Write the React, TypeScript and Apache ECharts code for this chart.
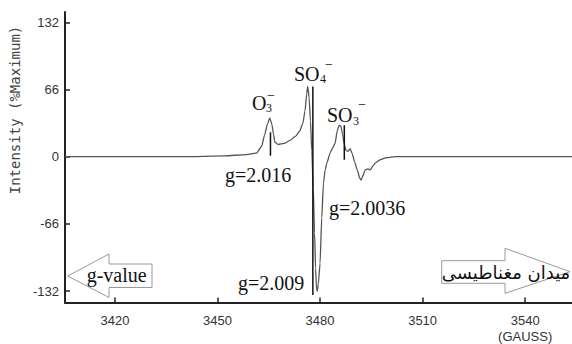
import React, { useEffect, useRef } from "react";
import * as echarts from "echarts";

// Magnetic field (G) and intensity (% maximum)
const fieldG = [
  3405.4, 3440, 3452, 3458.4, 3461.4, 3462.9, 3463.8, 3464.6, 3465.3, 3465.9,
  3466.4, 3466.8, 3467.8, 3469.5, 3471.2, 3472.8, 3474.0, 3475.0, 3475.6, 3476.1,
  3476.4, 3476.8, 3477.2, 3477.6, 3478.0, 3478.4, 3478.7, 3479.0, 3479.2, 3479.5,
  3480.0, 3480.5, 3481.0, 3481.5, 3482.0, 3483.0, 3483.6, 3484.4, 3485.0, 3485.6,
  3486.1, 3486.6, 3487.1, 3487.6, 3488.2, 3488.8, 3489.4, 3490.1, 3490.9, 3491.6,
  3492.0, 3492.5, 3493.2, 3494.0, 3494.7, 3495.5, 3496.2, 3497.6, 3499.5, 3502,
  3553.7,
];
const intensity = [
  0, 0, 0.8, 2, 3.5, 10, 21.5, 32, 38, 32,
  22, 14, 12, 13, 16, 20, 25, 33, 45, 62,
  69, 58, 35, 5, -30, -75, -110, -131, -132, -125,
  -105, -60, -26, -13, -6, 4, 8, 13, 25, 31,
  30, 22, 12, 6, 5.5, 8, 3, -5, -13, -21,
  -23, -19, -13, -12, -13, -9, -6, -3, -1, 0,
  0,
];

const xTicks = [3420, 3450, 3480, 3510, 3540];
const yTicks = [-132, -66, 0, 66, 132];

// Vertical marker lines (field, top, bottom)
const markerG = [3465.5, 3477.9, 3487.1];
const markerTop = [24, 69, 31];
const markerBottom = [1, -136, -3];

const SERIF = "'Liberation Serif', 'Times New Roman', serif";

export default function App() {
  const ref = useRef<HTMLDivElement>(null);
  useEffect(() => {
    const chart = echarts.init(ref.current!, null, { renderer: "svg" });
    const txt = (
      text: string,
      x: number,
      y: number,
      size: number,
      extra: any = {}
    ) => ({
      type: "text",
      x,
      y,
      z: 10,
      style: {
        text,
        fill: "#111",
        font: `${size}px ${SERIF}`,
        align: "left",
        verticalAlign: "middle",
        ...extra,
      },
    });
    const option: any = {
      animation: false,
      backgroundColor: "#fff",
      grid: {
        left: 65,
        right: 0,
        top: 12,
        bottom: 41.5,
        containLabel: false,
        outerBoundsMode: "none",
      },
      xAxis: {
        type: "value",
        min: 3405.4,
        max: 3553.7,
        axisLine: { onZero: false, lineStyle: { color: "#222", width: 2 } },
        axisTick: {
          inside: true,
          length: 5,
          customValues: xTicks,
          lineStyle: { color: "#222", width: 1.5 },
        },
        axisLabel: {
          customValues: xTicks,
          margin: 10,
          color: "#333",
          fontFamily: "'Liberation Sans', Arial, sans-serif",
          fontSize: 13,
          lineHeight: 16,
          formatter: (v: number) =>
            v === 3540 ? "3540\n(GAUSS)" : String(v),
        },
        splitLine: { show: false },
      },
      yAxis: {
        type: "value",
        min: -143.3,
        max: 142.2,
        axisLine: { onZero: false, lineStyle: { color: "#222", width: 2 } },
        axisTick: {
          inside: true,
          length: 5,
          customValues: yTicks,
          lineStyle: { color: "#222", width: 1.5 },
        },
        axisLabel: {
          customValues: yTicks,
          margin: 6,
          color: "#333",
          fontFamily: "'Liberation Sans', Arial, sans-serif",
          fontSize: 13,
        },
        splitLine: { show: false },
      },
      series: [
        {
          type: "line",
          data: fieldG.map((g, i) => [g, intensity[i]]),
          showSymbol: false,
          smooth: 0.2,
          smoothMonotone: "x",
          lineStyle: { color: "#555", width: 1.3 },
          z: 2,
        },
        ...markerG.map((g, i) => ({
          type: "line",
          data: [
            [g, markerTop[i]],
            [g, markerBottom[i]],
          ],
          showSymbol: false,
          lineStyle: { color: "#111", width: 1.5 },
          z: 3,
        })),
      ],
      graphic: [
        {
          type: "text",
          x: 15,
          y: 110,
          rotation: Math.PI / 2,
          style: {
            text: "Intensity (%Maximum)",
            fill: "#444",
            font: "14px 'DejaVu Sans Mono', monospace",
            align: "center",
            verticalAlign: "middle",
          },
        },
        // left arrow
        {
          type: "polygon",
          z: 5,
          shape: {
            points: [
              [67.7, 276],
              [109, 254],
              [109, 264],
              [152, 264],
              [152, 287.5],
              [109, 287.5],
              [109, 297.5],
            ],
          },
          style: { fill: "#fff", stroke: "#9a9a9a", lineWidth: 1 },
        },
        txt("g-value", 86.7, 275, 20),
        // right arrow
        {
          type: "polygon",
          z: 5,
          shape: {
            points: [
              [441.7, 260.7],
              [505, 260.7],
              [505, 248.3],
              [570, 271.7],
              [505, 293.3],
              [505, 283.3],
              [441.7, 283.3],
            ],
          },
          style: { fill: "#fff", stroke: "#9a9a9a", lineWidth: 1 },
        },
        txt("ميدان مغناطيسى", 506, 272, 18, {
          align: "center",
          font: "18px 'DejaVu Sans', sans-serif",
        }),
        // species labels
        txt("O", 252, 102.5, 20),
        txt("3", 266, 108, 12),
        txt("\u2212", 267, 95, 14),
        txt("SO", 294, 73.5, 20),
        txt("4", 320, 79, 12),
        txt("\u2212", 325, 64, 14),
        txt("SO", 327, 115, 20),
        txt("3", 353, 120.5, 12),
        txt("\u2212", 358, 104, 14),
        // g values
        txt("g=2.016", 225, 175, 20),
        txt("g=2.0036", 329, 208, 20),
        txt("g=2.009", 238, 283, 20),
      ],
    };
    chart.setOption(option);
    return () => chart.dispose();
  }, []);
  return (
    <div
      ref={ref}
      style={{
        position: "absolute",
        left: 0,
        top: 0,
        width: 572,
        height: 344,
        background: "#fff",
      }}
    />
  );
}
